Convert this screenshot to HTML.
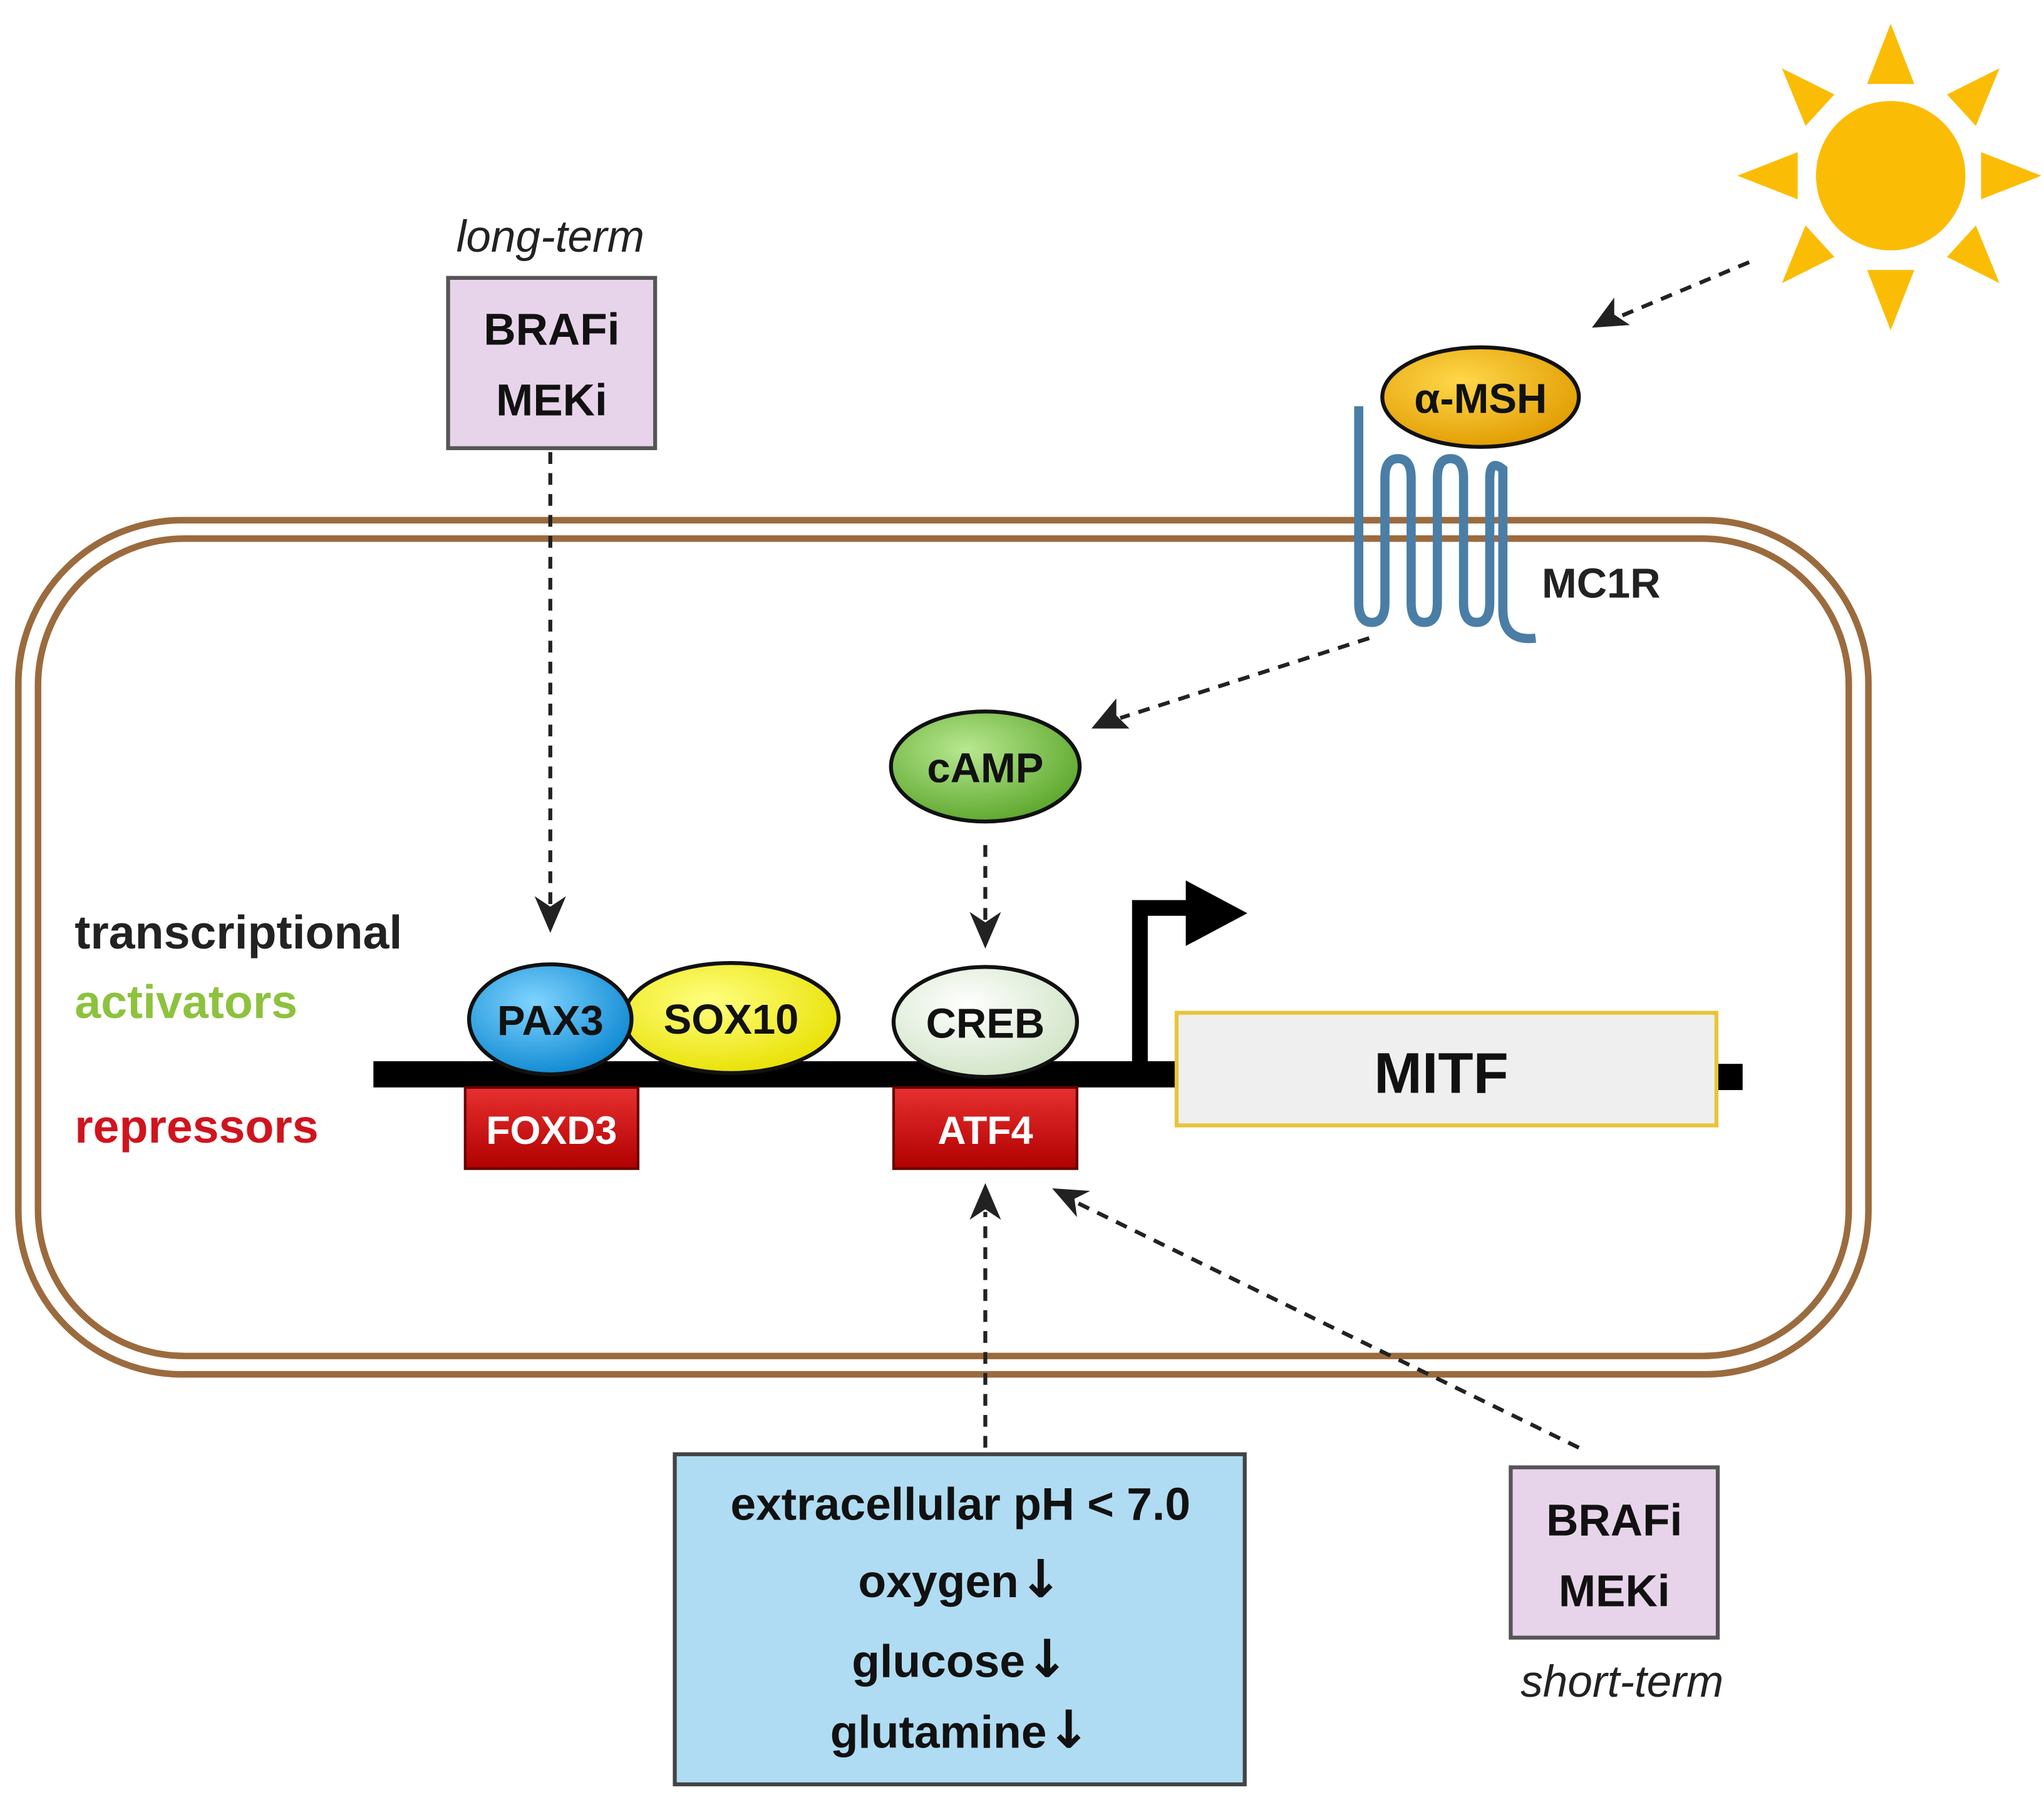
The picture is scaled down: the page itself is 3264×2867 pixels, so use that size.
<!DOCTYPE html>
<html><head><meta charset="utf-8"><style>
html,body{margin:0;padding:0;background:#fff;}
svg{display:block;}
text{font-family:"Liberation Sans",sans-serif;}
</style></head><body>
<svg width="3264" height="2867" viewBox="0 0 1560 1370" xmlns="http://www.w3.org/2000/svg">
<defs>
<radialGradient id="gb" cx="40%" cy="35%" r="70%"><stop offset="0" stop-color="#7fd4ff"/><stop offset="1" stop-color="#0b86d0"/></radialGradient>
<radialGradient id="gy" cx="40%" cy="35%" r="70%"><stop offset="0" stop-color="#ffff80"/><stop offset="1" stop-color="#e8e000"/></radialGradient>
<radialGradient id="gg" cx="40%" cy="35%" r="70%"><stop offset="0" stop-color="#b8e890"/><stop offset="1" stop-color="#5aa52a"/></radialGradient>
<radialGradient id="gw" cx="40%" cy="35%" r="70%"><stop offset="0" stop-color="#ffffff"/><stop offset="1" stop-color="#cfe3c4"/></radialGradient>
<radialGradient id="go" cx="40%" cy="35%" r="70%"><stop offset="0" stop-color="#ffd84a"/><stop offset="1" stop-color="#e09a00"/></radialGradient>
<linearGradient id="gr" x1="0" y1="0" x2="0" y2="1"><stop offset="0" stop-color="#e83030"/><stop offset="1" stop-color="#b00000"/></linearGradient>
</defs>

<rect x="14" y="397" width="1412" height="652" rx="125" fill="none" stroke="#9b6b3e" stroke-width="5"/>
<rect x="29" y="411" width="1382" height="624" rx="112" fill="none" stroke="#9b6b3e" stroke-width="5"/>

<g fill="#fbbc05">
<circle cx="1443" cy="134" r="57"/>
<polygon points="1443,18 1425,64 1461,64"/>
<polygon points="1443,252 1425,206 1461,206"/>
<polygon points="1326,134 1372,116 1372,152"/>
<polygon points="1558,134 1512,116 1512,152"/>
<polygon points="1360,52 1400,72 1378,96"/>
<polygon points="1526,52 1486,72 1508,96"/>
<polygon points="1360,216 1378,172 1400,196"/>
<polygon points="1526,216 1508,172 1486,196"/>
</g>

<g stroke="#222" stroke-width="3" stroke-dasharray="9,7" fill="none">
<line x1="420" y1="345" x2="420" y2="690"/>
<line x1="1335" y1="200" x2="1235" y2="242"/>
<line x1="1045" y1="487" x2="855" y2="548"/>
<line x1="752" y1="645" x2="752" y2="702"/>
<line x1="752" y1="1105" x2="752" y2="925"/>
<line x1="1205" y1="1105" x2="822" y2="918"/>
</g>
<g fill="#222">
<polygon points="420,712 408,684 420,692 432,684"/>
<polygon points="1215,250 1232,227 1232,240 1244,248"/>
<polygon points="833,556 852,533 852,546 862,556"/>
<polygon points="752,724 740,696 752,704 764,696"/>
<polygon points="752,903 740,931 752,923 764,931"/>
<polygon points="803,907 832,909 820,915 822,929"/>
</g>

<text x="420" y="192" font-size="34" font-style="italic" fill="#222" text-anchor="middle">long-term</text>
<rect x="342" y="212" width="158" height="130" fill="#e8d4ea" stroke="#555" stroke-width="3"/>
<text x="421" y="263" font-size="34" font-weight="bold" fill="#111" text-anchor="middle">BRAFi</text>
<text x="421" y="317" font-size="34" font-weight="bold" fill="#111" text-anchor="middle">MEKi</text>

<path d="M1037,310 L1037,460 Q1037,475 1047,475 Q1057,475 1057,460 L1057,365 Q1057,350 1067,350 Q1077,350 1077,365 L1077,460 Q1077,475 1087,475 Q1097,475 1097,460 L1097,365 Q1097,350 1107,350 Q1117,350 1117,365 L1117,460 Q1117,475 1127,475 Q1137,475 1137,460 L1137,365 Q1137,350 1147,358 L1147,465 Q1147,490 1172,487" fill="none" stroke="#4a7ea6" stroke-width="7"/>
<text x="1222" y="456" font-size="32" font-weight="bold" fill="#222" text-anchor="middle">MC1R</text>

<ellipse cx="1130" cy="303" rx="75" ry="38" fill="url(#go)" stroke="#111" stroke-width="3"/>
<text x="1130" y="315" font-size="32" font-weight="bold" fill="#111" text-anchor="middle">α-MSH</text>

<ellipse cx="752" cy="585" rx="72" ry="42" fill="url(#gg)" stroke="#111" stroke-width="3"/>
<text x="752" y="597" font-size="32" font-weight="bold" fill="#111" text-anchor="middle">cAMP</text>

<line x1="285" y1="820" x2="900" y2="820" stroke="#000" stroke-width="20"/>
<rect x="1310" y="812" width="20" height="20" fill="#000"/>
<path d="M870,812 L870,693 L915,693" fill="none" stroke="#000" stroke-width="12"/>
<polygon points="905,672 952,697 905,722" fill="#000"/>
<rect x="898" y="773" width="412" height="86" fill="#efefef" stroke="#e8c43a" stroke-width="3"/>
<text x="1100" y="834" font-size="44" font-weight="bold" fill="#111" text-anchor="middle">MITF</text>

<rect x="355" y="830" width="132" height="62" fill="url(#gr)" stroke="#600" stroke-width="2"/>
<text x="421" y="873" font-size="30" font-weight="bold" fill="#fff" text-anchor="middle">FOXD3</text>
<rect x="682" y="830" width="140" height="62" fill="url(#gr)" stroke="#600" stroke-width="2"/>
<text x="752" y="873" font-size="30" font-weight="bold" fill="#fff" text-anchor="middle">ATF4</text>

<ellipse cx="558" cy="777" rx="82" ry="42" fill="url(#gy)" stroke="#111" stroke-width="3"/>
<text x="558" y="789" font-size="32" font-weight="bold" fill="#111" text-anchor="middle">SOX10</text>
<ellipse cx="420" cy="778" rx="62" ry="42" fill="url(#gb)" stroke="#111" stroke-width="3"/>
<text x="420" y="790" font-size="32" font-weight="bold" fill="#111" text-anchor="middle">PAX3</text>
<ellipse cx="752" cy="780" rx="70" ry="42" fill="url(#gw)" stroke="#111" stroke-width="3"/>
<text x="752" y="792" font-size="32" font-weight="bold" fill="#111" text-anchor="middle">CREB</text>

<text x="57" y="724" font-size="36" font-weight="bold" fill="#222">transcriptional</text>
<text x="57" y="777" font-size="36" font-weight="bold" fill="#8dc23e">activators</text>
<text x="57" y="872" font-size="36" font-weight="bold" fill="#d0141e">repressors</text>

<rect x="515" y="1110" width="435" height="252" fill="#afdcf2" stroke="#444" stroke-width="3"/>
<g font-size="35" font-weight="bold" fill="#111" text-anchor="middle">
<text x="733" y="1160">extracellular pH &lt; 7.0</text>
<text x="733" y="1219">oxygen<tspan font-family="DejaVu Sans" font-size="40">↓</tspan></text>
<text x="733" y="1280">glucose<tspan font-family="DejaVu Sans" font-size="40">↓</tspan></text>
<text x="733" y="1334">glutamine<tspan font-family="DejaVu Sans" font-size="40">↓</tspan></text>
</g>

<rect x="1153" y="1120" width="158" height="130" fill="#e8d4ea" stroke="#555" stroke-width="3"/>
<text x="1232" y="1172" font-size="34" font-weight="bold" fill="#111" text-anchor="middle">BRAFi</text>
<text x="1232" y="1226" font-size="34" font-weight="bold" fill="#111" text-anchor="middle">MEKi</text>
<text x="1238" y="1295" font-size="34" font-style="italic" fill="#222" text-anchor="middle">short-term</text>
</svg>
</body></html>
